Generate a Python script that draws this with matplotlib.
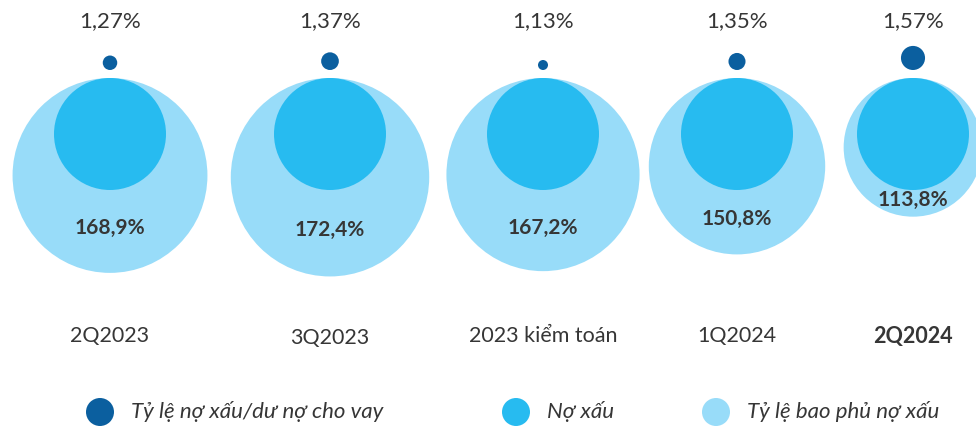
import matplotlib
matplotlib.use("Agg")
import matplotlib.pyplot as plt
from matplotlib.patches import Circle

plt.rcParams["font.family"] = ["Lato", "DejaVu Sans"]

# --- Data ---
categories = ["2Q2023", "3Q2023", "2023 kiểm toán", "1Q2024", "2Q2024"]
npl_ratio = [1.27, 1.37, 1.13, 1.35, 1.57]          # Tỷ lệ nợ xấu/dư nợ cho vay (%)
coverage = [168.9, 172.4, 167.2, 150.8, 113.8]      # Tỷ lệ bao phủ nợ xấu (%)
npl_labels = ["1,27%", "1,37%", "1,13%", "1,35%", "1,57%"]
coverage_labels = ["168,9%", "172,4%", "167,2%", "150,8%", "113,8%"]
legend_labels = ["Tỷ lệ nợ xấu/dư nợ cho vay", "Nợ xấu", "Tỷ lệ bao phủ nợ xấu"]

# --- Layout (pixel coordinates) ---
group_x = [110, 330, 543, 737, 913]
TOP = 78          # all big circles share the same top
NPL_R = 56        # "Nợ xấu" circle, same size every period
DOT_BASE = 70     # bottom of the small dots

DARK = "#0B5F9F"
MID = "#27BBF0"
LIGHT = "#98DCF9"
TEXT = "#363636"


def coverage_radius(v):
    return 11.3 + 0.51 * v


def ratio_radius(v):
    return 5 + (v - 1.13) * 16


fig = plt.figure(figsize=(9.76, 4.26), dpi=100)
ax = fig.add_axes([0, 0, 1, 1])
ax.set_xlim(0, 976)
ax.set_ylim(426, 0)
ax.set_aspect("equal")
ax.axis("off")

for i, cat in enumerate(categories):
    x = group_x[i]
    r = coverage_radius(coverage[i])
    ax.add_patch(Circle((x, TOP + r), r, color=LIGHT, lw=0))
    ax.add_patch(Circle((x, TOP + NPL_R), NPL_R, color=MID, lw=0))
    dr = ratio_radius(npl_ratio[i])
    ax.add_patch(Circle((x, DOT_BASE - dr), dr, color=DARK, lw=0))

    ax.text(x, 21, npl_labels[i], ha="center", va="center", fontsize=16, color=TEXT)
    label_y = (TOP + 2 * NPL_R + TOP + 2 * r) / 2 - 3
    ax.text(x, label_y, coverage_labels[i], ha="center", va="center",
            fontsize=15, fontweight="bold", color=TEXT)
    ax.text(x, 338 if i == 1 else 336, cat, ha="center", va="center", fontsize=15.5,
            color=TEXT, fontweight="bold" if i == len(categories) - 1 else "normal")

# --- Legend ---
leg_x = [100, 516, 716]
for lx, col, lab in zip(leg_x, [DARK, MID, LIGHT], legend_labels):
    ax.add_patch(Circle((lx, 412), 14, color=col, lw=0))
    ax.text(lx + 31, 411, lab, ha="left", va="center", fontsize=16,
            style="italic", color=TEXT)

fig.savefig("out.png", dpi=100, facecolor="white")
